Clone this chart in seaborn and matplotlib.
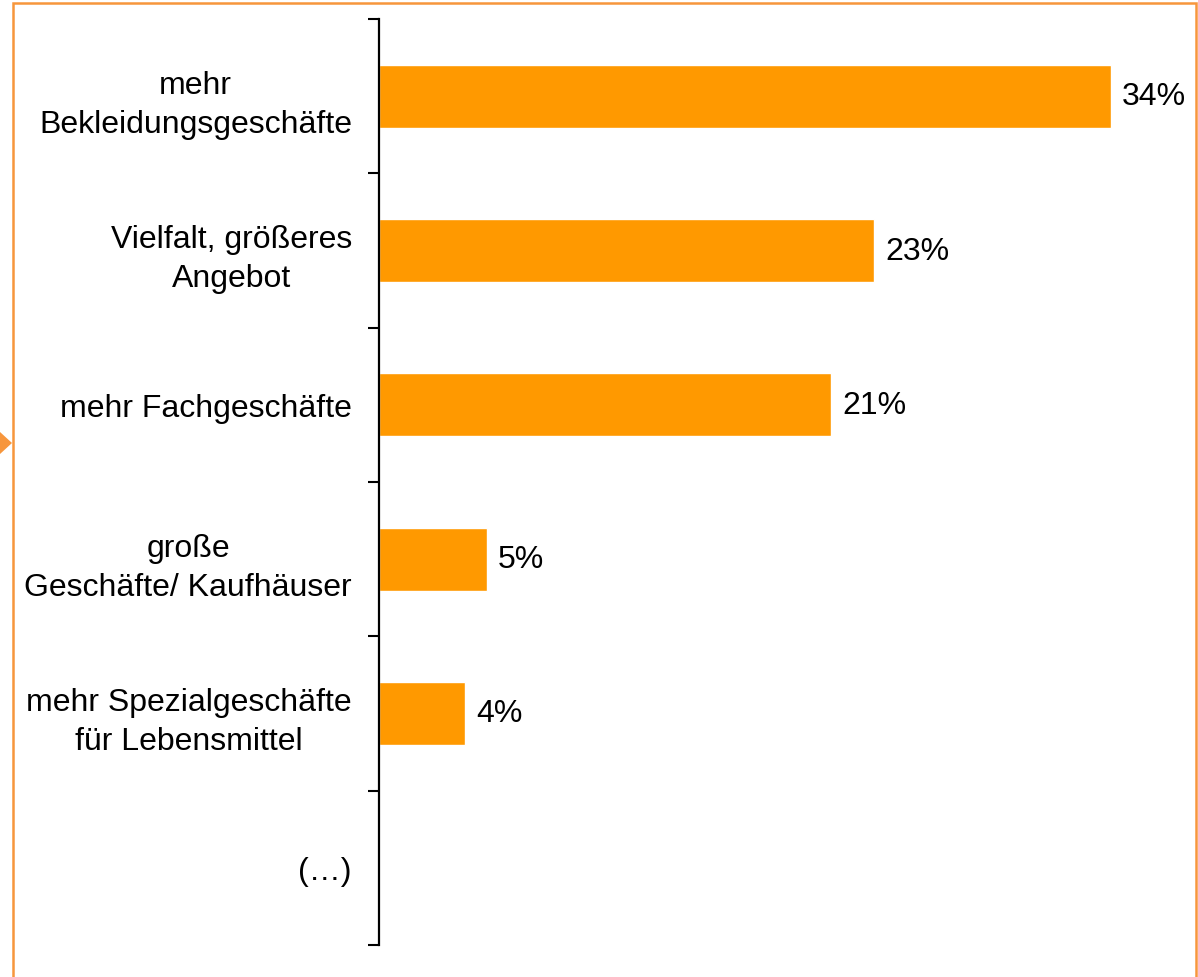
import matplotlib
matplotlib.use("Agg")
import matplotlib.pyplot as plt
from matplotlib.patches import Rectangle, Polygon
import seaborn as sns
import pandas as pd
import numpy as np

# ---- Data ----
categories = [
    "mehr\nBekleidungsgeschäfte",
    "Vielfalt, größeres\nAngebot",
    "mehr Fachgeschäfte",
    "große\nGeschäfte/ Kaufhäuser",
    "mehr Spezialgeschäfte\nfür Lebensmittel",
    "(…)",
]
values = [34, 23, 21, 5, 4, np.nan]
value_labels = ["34%", "23%", "21%", "5%", "4%", ""]

BAR_COLOR = "#FF9900"
FRAME_COLOR = "#F7963C"
FONT_SIZE = 23

sns.set_theme(style="white")
plt.rcParams["font.family"] = ["Liberation Sans", "DejaVu Sans"]

W, H = 1198, 978
fig = plt.figure(figsize=(W / 100, H / 100), dpi=100)
ax = fig.add_axes([379 / W, 32 / H, 818 / W, 926 / H])

df = pd.DataFrame({"cat": categories, "val": values})
sns.barplot(data=df, x="val", y="cat", order=categories, color=BAR_COLOR,
            width=0.41, saturation=1, ax=ax, orient="h")

ax.set_xlim(0, 38)
ax.set_ylim(len(categories) - 0.5, -0.5)

# value labels
for i, (v, lab) in enumerate(zip(values, value_labels)):
    if lab:
        ax.annotate(lab, xy=(v, i), xytext=(8, 0), textcoords="offset points",
                    va="center", ha="left", fontsize=FONT_SIZE, color="black")

# ticks at band boundaries, labels at band centres
n = len(categories)
ax.set_yticks(np.arange(n + 1) - 0.5)
ax.set_yticklabels([])
ax.set_yticks(np.arange(n), minor=True)
ax.set_yticklabels(categories, minor=True, fontsize=FONT_SIZE, ha="right",
                   multialignment="center", color="black", linespacing=1.4)
ax.tick_params(axis="y", which="major", left=True, length=8, width=1.5,
               color="black", direction="out")
ax.tick_params(axis="y", which="minor", left=False, length=0, pad=19.5)
ax.set_xticks([])
ax.set_xlabel("")
ax.set_ylabel("")

for s in ["top", "right", "bottom"]:
    ax.spines[s].set_visible(False)
ax.spines["left"].set_color("black")
ax.spines["left"].set_linewidth(1.6)

# orange frame around the panel and the little pointer on the left
fig.patches.append(Rectangle((12.5 / W, -0.02), (1196 - 12.5) / W, (H - 4) / H + 0.02,
                             transform=fig.transFigure, fill=False,
                             edgecolor=FRAME_COLOR, linewidth=1.8))
fig.patches.append(Polygon([(0, (H - 433) / H), (12 / W, (H - 444) / H), (0, (H - 455) / H)],
                           closed=True, transform=fig.transFigure,
                           facecolor=FRAME_COLOR, edgecolor="none"))

fig.savefig("out.png", dpi=100, facecolor="white")
